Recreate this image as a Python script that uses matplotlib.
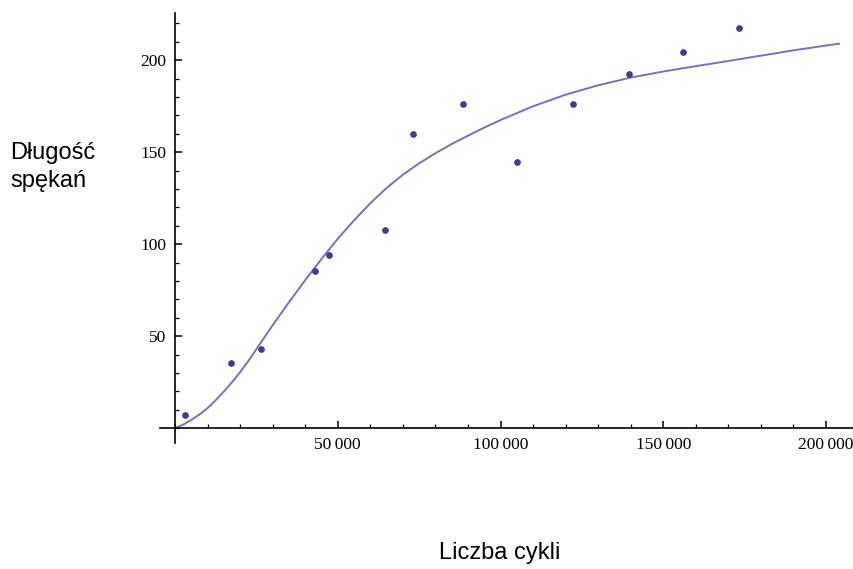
import matplotlib.pyplot as plt
from matplotlib.ticker import FixedLocator, MultipleLocator

# measured points (cycles, crack length)
cycles = [3000, 17200, 26400, 43000, 47200, 64400, 73000, 88400,
          105000, 122200, 139400, 156000, 173200]
crack_len = [7.2, 35.7, 43.3, 85.7, 94.4, 107.6, 159.8, 176.0,
             144.6, 176.0, 192.6, 204.5, 217.6]

# fitted curve
fit_x = [0, 2500, 5000, 7500, 10000, 12500, 15000, 17500, 20000, 22500,
         25000, 30000, 35000, 40000, 45000,
         50000, 55000, 60000, 65000, 70000, 75000, 80000, 85000, 90000,
         95000, 100000, 110000, 120000, 130000, 140000, 150000, 160000,
         170000, 180000, 190000, 200000, 204000]
fit_y = [0, 2, 4.5, 7.5, 11, 15.3, 20, 25, 30.5, 36.5,
         43, 56, 68.5, 80.5, 92,
         103, 113, 122.3, 130.6, 137.8, 144, 149.5, 154.5, 159,
         163.4, 167.5, 175, 181.3, 186.4, 190.6, 193.9, 196.8,
         199.6, 202.5, 205.4, 208, 209]

x_ticks = [50000, 100000, 150000, 200000]
x_labels = ['50\u2009000', '100\u2009000', '150\u2009000', '200\u2009000']
y_ticks = [50, 100, 150, 200]

fig = plt.figure(figsize=(8.54, 5.69), dpi=100)
ax = fig.add_axes([0.1874, 0.2214, 0.8126, 0.7558])

ax.plot(fit_x, fit_y, color='#7373bb', lw=1.4, zorder=2)
ax.plot(cycles, crack_len, 'o', color='#3c3c8e', ms=3.8, zorder=3)

ax.set_xlim(-4600, 208600)
ax.set_ylim(-8, 225.7)

# Mathematica-like axes crossing at the origin
for s in ['top', 'right']:
    ax.spines[s].set_visible(False)
ax.spines['left'].set_position(('data', 0))
ax.spines['bottom'].set_position(('data', 0))
ax.spines['left'].set_linewidth(1.2)
ax.spines['bottom'].set_linewidth(1.2)

ax.xaxis.set_major_locator(FixedLocator(x_ticks))
ax.set_xticklabels(x_labels)
ax.xaxis.set_minor_locator(MultipleLocator(10000))
ax.yaxis.set_major_locator(FixedLocator(y_ticks))
ax.yaxis.set_minor_locator(MultipleLocator(10))

ax.tick_params(which='major', direction='in', length=5, width=1.1,
               labelsize=12.5, pad=6)
ax.tick_params(which='minor', direction='in', length=3, width=0.9)
for lab in ax.get_xticklabels() + ax.get_yticklabels():
    lab.set_family(['Liberation Serif', 'DejaVu Serif'])

fig.text(10 / 854, 1 - 167 / 569, 'Długość\nspękań', ha='left', va='center',
         fontsize=17, family='Liberation Sans', linespacing=1.3)
fig.text(500 / 854, 1 - 553 / 569, 'Liczba cykli', ha='center', va='center',
         fontsize=17, family='Liberation Sans')

fig.savefig('out.png', dpi=100)
